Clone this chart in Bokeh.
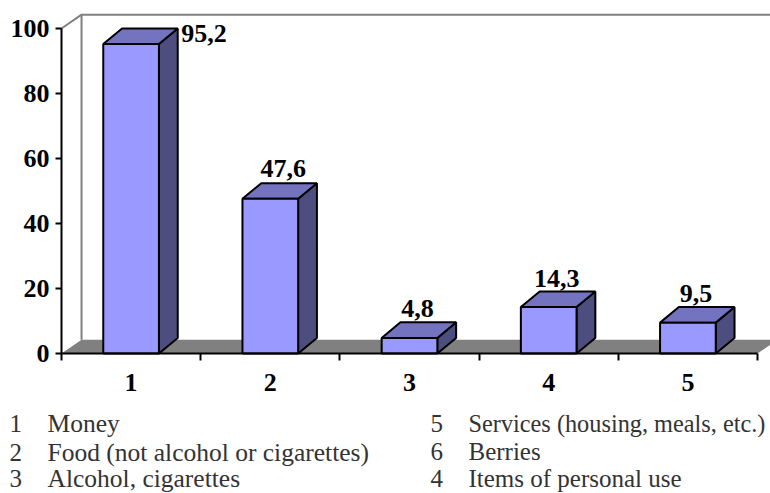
from bokeh.plotting import figure
from bokeh.models import ColumnDataSource, FixedTicker, Range1d, Label
from bokeh.core.properties import value
from bokeh.embed import file_html
from bokeh.resources import INLINE

categories = [1, 2, 3, 4, 5]
values = [95.2, 47.6, 4.8, 14.3, 9.5]
value_labels = ["95,2", "47,6", "4,8", "14,3", "9,5"]
y_ticks = [0, 20, 40, 60, 80, 100]
x_boundaries = [0.5, 1.5, 2.5, 3.5, 4.5, 5.5]
legend_left_nums = ["1", "2", "3"]
legend_left_text = ["Money", "Food (not alcohol or cigarettes)", "Alcohol, cigarettes"]
legend_right_nums = ["5", "6", "4"]
legend_right_text = ["Services (housing, meals, etc.)", "Berries", "Items of personal use"]

SERIF = "Liberation Serif"
W, H = 770, 493
L, B = 61, 140
PX_X, PX_Y = 139.2, 3.25
x_min = 0.5 - L / PX_X
x_max = 0.5 + (W - L) / PX_X
y_min = -B / PX_Y
y_max = (H - B) / PX_Y

p = figure(width=W, height=H, output_backend="svg", toolbar_location=None,
           x_range=Range1d(x_min, x_max), y_range=Range1d(y_min, y_max),
           min_border_left=0, min_border_bottom=0, min_border_top=0, min_border_right=0,
           outline_line_color=None)
p.grid.visible = False

# walls and floor
wall_dx, wall_dy = 0.144, 4.25
p.patch([0.5, 5.5, 5.5 + wall_dx, 0.5 + wall_dx],
        [0, 0, wall_dy, wall_dy], fill_color="#808080", line_color=None)
p.line([0.5 + wall_dx, 0.5 + wall_dx], [wall_dy, 100 + wall_dy], line_color="#808080", line_width=2)
p.line([0.5, 0.5 + wall_dx, x_max], [100, 100 + wall_dy, 100 + wall_dy], line_color="#808080", line_width=2)

# 3-D bars
hw, dx, dy = 0.2, 0.135, 4.8
front = ColumnDataSource(dict(
    xs=[[c - hw, c + hw, c + hw, c - hw] for c in categories],
    ys=[[0, 0, v, v] for v in values]))
top = ColumnDataSource(dict(
    xs=[[c - hw, c + hw, c + hw + dx, c - hw + dx] for c in categories],
    ys=[[v, v, v + dy, v + dy] for v in values]))
side = ColumnDataSource(dict(
    xs=[[c + hw, c + hw + dx, c + hw + dx, c + hw] for c in categories],
    ys=[[0, dy, v + dy, v] for v in values]))
p.patches("xs", "ys", source=side, fill_color="#4D4D80", line_color="black", line_width=2)
p.patches("xs", "ys", source=top, fill_color="#7373BF", line_color="black", line_width=2)
p.patches("xs", "ys", source=front, fill_color="#9999FF", line_color="black", line_width=2)

# value labels
labels = ColumnDataSource(dict(x=categories, y=values, t=value_labels,
                               xo=[73, 13, 8, 8, 8], yo=[-11, -30, -29, -29, -29]))
p.text("x", "y", text="t", source=labels, x_offset="xo", y_offset="yo",
       text_align="center", text_baseline="middle", text_color="black",
       text_font=value(SERIF), text_font_style="bold", text_font_size="26px")

# axes, inside the full-canvas frame
ya = p.yaxis[0]
ya.fixed_location = 0.5
ya.ticker = FixedTicker(ticks=y_ticks)
ya.bounds = (0, 100)
ya.axis_line_color = "black"
ya.axis_line_width = 2
ya.major_tick_line_color = "black"
ya.major_tick_line_width = 2
ya.major_tick_in = 0
ya.major_tick_out = 6
ya.minor_tick_line_color = None
ya.major_label_standoff = 6
ya.major_label_text_font = SERIF
ya.major_label_text_font_style = "bold"
ya.major_label_text_font_size = "26px"
ya.major_label_text_color = "black"

xa = p.xaxis[0]
xa.fixed_location = 0
xa.ticker = FixedTicker(ticks=categories, minor_ticks=x_boundaries)
xa.bounds = (0.5, 5.5)
xa.axis_line_color = "black"
xa.axis_line_width = 2
xa.major_tick_line_color = None
xa.major_tick_in = 0
xa.major_tick_out = 0
xa.minor_tick_line_color = "black"
xa.minor_tick_line_width = 2
xa.minor_tick_in = 0
xa.minor_tick_out = 7
xa.major_label_standoff = 13
xa.major_label_text_font = SERIF
xa.major_label_text_font_style = "bold"
xa.major_label_text_font_size = "26px"
xa.major_label_text_color = "black"

# caption under the chart; screen units count from the frame's lower left corner
def caption(text, px, py, size="25px"):
    p.add_layout(Label(x=px, y=H - py, x_units="screen", y_units="screen", text=text,
                       text_font=SERIF, text_font_size=size, text_color="#333333",
                       text_align="left", text_baseline="middle"))

for n, t, y in zip(legend_left_nums, legend_left_text, [423, 452, 478]):
    caption(n, 9, y)
    caption(t, 47, y, "25.5px")
for n, t, y, s in zip(legend_right_nums, legend_right_text, [423, 451, 478], ["24.3px", "25px", "25px"]):
    caption(n, 430, y)
    caption(t, 468, y, s)

open("out.html", "w").write(file_html(p, INLINE))
